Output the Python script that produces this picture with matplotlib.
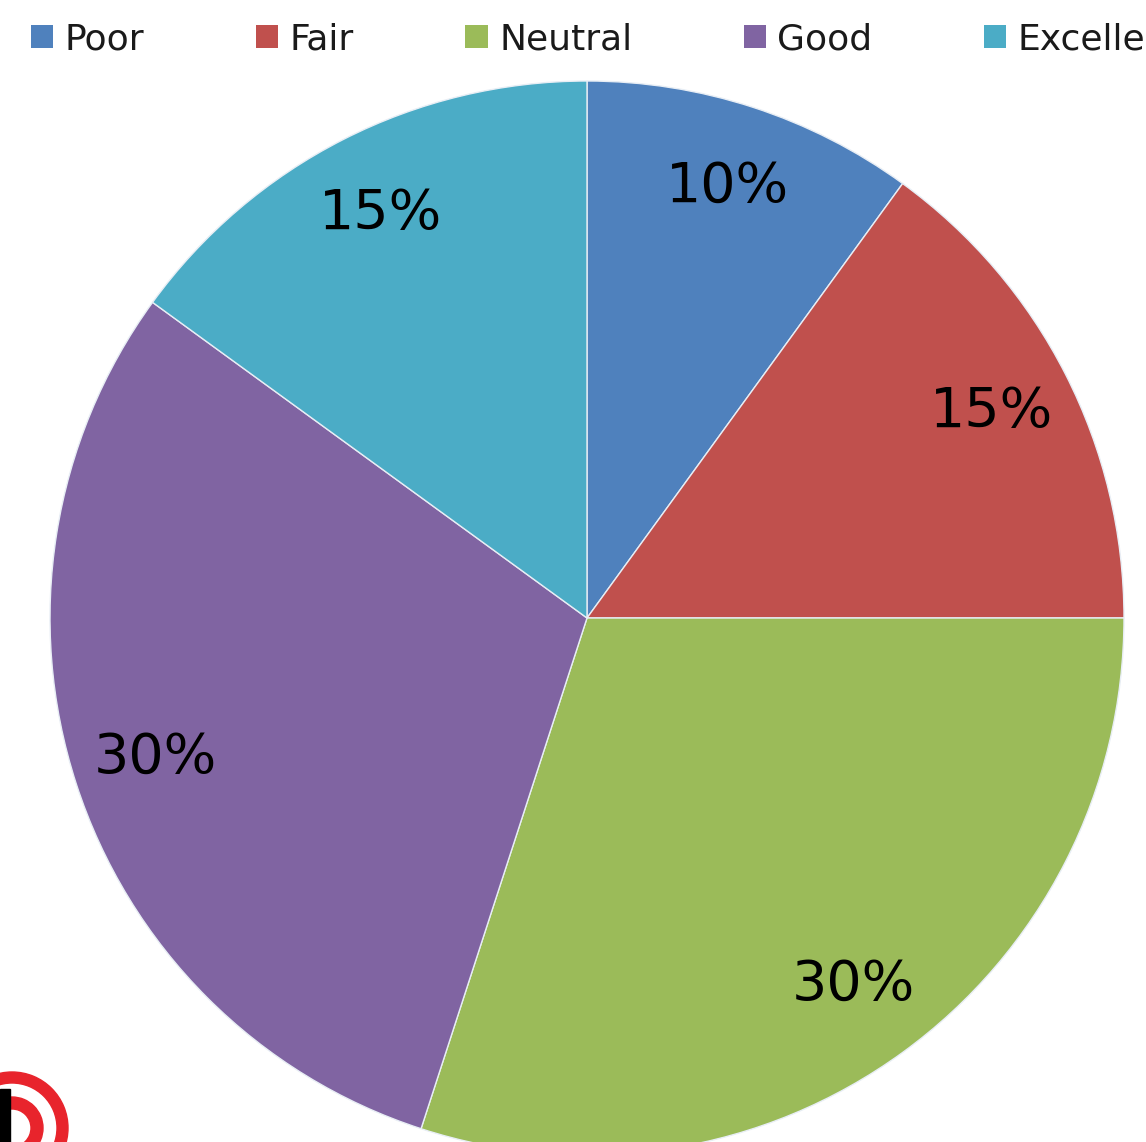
import matplotlib
matplotlib.use("Agg")
import matplotlib.pyplot as plt
from matplotlib.patches import Wedge, Rectangle, Patch

categories = ["Poor", "Fair", "Neutral", "Good", "Excellent"]
values = [10, 15, 30, 30, 15]
colors = ["#4F81BD", "#C0504D", "#9BBB59", "#8064A2", "#4BACC6"]

W, H = 1146, 1142
fig = plt.figure(figsize=(W / 100, H / 100), dpi=100)
ax = fig.add_axes([0, 0, 1, 1])

wedges, texts, autotexts = ax.pie(
    values, colors=colors, startangle=90, counterclock=False,
    center=(587, H - 618), radius=537, frame=True,
    autopct=lambda p: f"{p:.0f}%", pctdistance=0.845,
    wedgeprops=dict(edgecolor="#e8eef5", linewidth=1.0),
    textprops=dict(fontsize=40, color="black", family="DejaVu Sans"),
)
ax.set_xlim(0, W)
ax.set_ylim(0, H)
ax.set_aspect("auto")
ax.axis("off")

# legend
handles = [Patch(facecolor=c, edgecolor="none") for c in colors]
fs = 26
leg = fig.legend(handles, categories, ncol=5, frameon=False,
                 loc="upper left", bbox_to_anchor=(31 / W, 1 - 22 / H),
                 borderaxespad=0, borderpad=0,
                 handlelength=0.62, handleheight=0.62, handletextpad=0.32,
                 columnspacing=3.08, prop=dict(family="DejaVu Sans", size=fs))
for t in leg.get_texts():
    t.set_color("#1a1a1a")

# watermark logo (partial) bottom-left
cx, cy = 12, H - 1128
ax.add_patch(Wedge((cx, cy), 56, 0, 360, width=11, color="#e8242c", zorder=5))
ax.add_patch(Wedge((cx, cy), 31, 0, 360, width=12, color="#e8242c", zorder=5))
ax.add_patch(Rectangle((0, 0), 10, H - 1089, color="black", zorder=6))

fig.savefig("out.png", dpi=100)
